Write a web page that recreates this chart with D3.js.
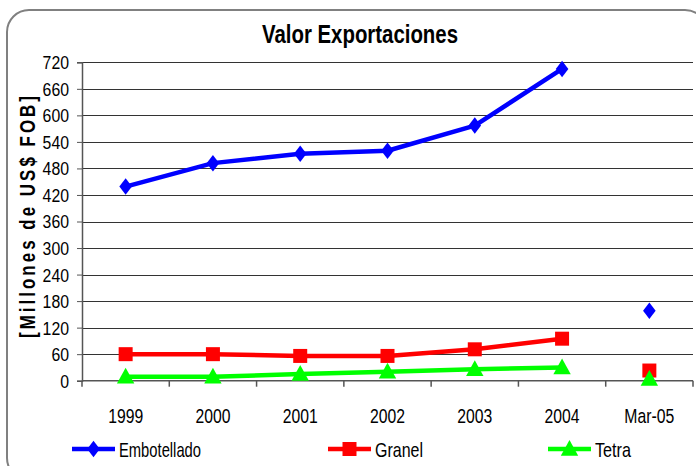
<!DOCTYPE html>
<html><head><meta charset="utf-8">
<script src="https://cdn.jsdelivr.net/npm/d3@7"></script>
<style>body{margin:0;background:#fff}svg{display:block}text{font-family:"Liberation Sans",Arial,sans-serif}</style>
</head><body><svg id="c" width="696" height="466"></svg>
<script>
const categories = ["1999","2000","2001","2002","2003","2004","Mar-05"];
const embotellado = [439, 492, 513, 520, 577, 705, 158];
const granel = [60, 60, 56, 56, 71, 95, 23];
const tetra = [9, 9, 15, 20, 26, 30, 4];
const yTicks = [0,60,120,180,240,300,360,420,480,540,600,660,720];
const seriesNames = ["Embotellado","Granel","Tetra"];
const seriesColors = ["#0000ff","#ff0000","#00ff00"];
const seriesShapes = ["diamond","square","triangle"];
// Mar-05 is shown as a separate point (not connected)
const connectedCount = 6;

const svg = d3.select("#c");
svg.append("rect").attr("x",7).attr("y",10).attr("width",700).attr("height",470)
  .attr("rx",22).attr("fill","#fff").attr("stroke","#808080").attr("stroke-width",2);

const L=82,R=693,T=62.3,B=380.7;
const x = d3.scaleBand().domain(categories).range([L,R]);
const y = d3.scaleLinear().domain([0,720]).range([B,T]);

// gridlines
svg.append("g").selectAll("line").data(yTicks.filter(d=>d>0)).join("line")
  .attr("x1",L).attr("x2",R).attr("y1",d=>Math.round(y(d))+0.5).attr("y2",d=>Math.round(y(d))+0.5)
  .attr("stroke","#333").attr("stroke-width",1);

// y axis
const ya = svg.append("g").attr("transform",`translate(${L},0)`)
  .call(d3.axisLeft(y).tickValues(yTicks).tickSize(5).tickPadding(4));
ya.select(".domain").attr("stroke","#555").attr("stroke-width",1.5);
ya.selectAll(".tick line").attr("stroke","#555");
ya.selectAll(".tick text").attr("font-size",18).attr("fill","#000").attr("x",-13).attr("dy","0.36em")
  .each(function(){
    const t=d3.select(this); const s=t.text();
    t.attr("textLength", s.length*8.8).attr("lengthAdjust","spacingAndGlyphs");
  });

// x axis
const xa = svg.append("g").attr("transform",`translate(0,${B})`);
xa.append("line").attr("x1",L).attr("x2",R).attr("y1",0).attr("y2",0).attr("stroke","#555").attr("stroke-width",1.5);
const bounds = categories.map(c=>x(c)).concat([R]);
xa.selectAll("line.tk").data(bounds).join("line").attr("class","tk")
  .attr("x1",d=>d).attr("x2",d=>d).attr("y1",0).attr("y2",6).attr("stroke","#555").attr("stroke-width",1.5);
xa.selectAll("text").data(categories).join("text")
  .attr("x",d=>x(d)+x.bandwidth()/2).attr("y",42.5).attr("text-anchor","middle")
  .attr("font-size",20.5).attr("fill","#000")
  .attr("textLength",d=>d.length===4?35:50).attr("lengthAdjust","spacingAndGlyphs")
  .text(d=>d);

// title
svg.append("text").attr("x",360).attr("y",42.5).attr("text-anchor","middle")
  .attr("font-size",25).attr("font-weight","bold").attr("textLength",196).attr("lengthAdjust","spacingAndGlyphs")
  .text("Valor Exportaciones");

// y axis title
svg.append("text").attr("transform","translate(34.5,215.5) rotate(-90)").attr("text-anchor","middle")
  .attr("font-size",22).attr("font-weight","bold").attr("letter-spacing","4px")
  .attr("textLength",245).attr("lengthAdjust","spacingAndGlyphs")
  .text("[Millones de US$ FOB]");

const symbolFor = (shape,size)=>{
  if(shape==="diamond") return `M0,${-size*0.55}L${size*0.42},0L0,${size*0.55}L${-size*0.42},0Z`;
  if(shape==="square") return `M${-size/2},${-size/2}h${size}v${size}h${-size}Z`;
  return `M0,${-size*0.6}L${size*0.58},${size*0.45}L${-size*0.58},${size*0.45}Z`;
};
const sizes=[15,14,15];

const allData=[embotellado,granel,tetra];
const cx = c=>x(c)+x.bandwidth()/2;
const line = d3.line().x(d=>cx(d.c)).y(d=>y(d.v));
allData.forEach((vals,i)=>{
  const pts = vals.map((v,j)=>({c:categories[j],v}));
  svg.append("path").attr("d",line(pts.slice(0,connectedCount))).attr("fill","none")
    .attr("stroke",seriesColors[i]).attr("stroke-width",4.5).attr("stroke-linejoin","round");
});
allData.forEach((vals,i)=>{
  const pts = vals.map((v,j)=>({c:categories[j],v}));
  svg.append("g").selectAll("path").data(pts).join("path")
    .attr("transform",d=>`translate(${cx(d.c)},${y(d.v)})`)
    .attr("d",symbolFor(seriesShapes[i], sizes[i])).attr("fill",seriesColors[i]);
});

// legend
const legendX=[72,328,548];
const legendW=[82,48,36];
seriesNames.forEach((n,i)=>{
  const g=svg.append("g").attr("transform",`translate(${legendX[i]},449)`);
  g.append("line").attr("x1",0).attr("x2",43).attr("stroke",seriesColors[i]).attr("stroke-width",4.5);
  g.append("path").attr("transform","translate(21.5,0)").attr("d",symbolFor(seriesShapes[i], sizes[i])).attr("fill",seriesColors[i]);
  g.append("text").attr("x",i===0?47:(i===1?47:47)).attr("y",7.5).attr("font-size",21)
    .attr("textLength",legendW[i]).attr("lengthAdjust","spacingAndGlyphs").text(n);
});
</script></body></html>
